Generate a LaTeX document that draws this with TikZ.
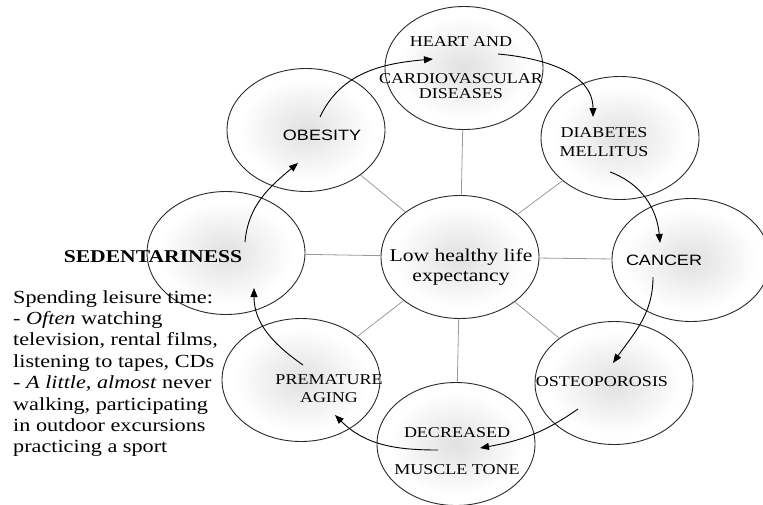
\documentclass[tikz,border=0pt]{standalone}
\usepackage{fontspec}
\setmainfont{Liberation Serif}[FakeStretch=1.2]
\setsansfont{Liberation Sans}[FakeStretch=1.2]
\usetikzlibrary{arrows.meta,backgrounds,shapes.geometric}
\definecolor{rim}{HTML}{2A2A2A}
\definecolor{spokegrey}{HTML}{9A9A9A}
\pgfdeclareradialshading{glow}{\pgfpoint{0bp}{0bp}}{color(0bp)=(black!12); color(21bp)=(white); color(25bp)=(white); color(50bp)=(white)}
\tikzset{
  blob/.style={ellipse, draw=rim, line width=0.9pt, minimum width=158pt,
               minimum height=123pt, inner sep=0pt},
  spoke/.style={draw=spokegrey, line width=0.8pt},
  ar/.style={-{Triangle[length=9pt,width=7pt]}, line width=0.9pt, color=black},
  tag/.style={inner sep=0pt, align=center, font=\fontsize{15}{16}\selectfont},
  tagsf/.style={tag, font=\sffamily\fontsize{15}{16}\selectfont},
}

\begin{document}
\begin{tikzpicture}[x=1pt, y=1pt]
\useasboundingbox (0,0) rectangle (763,-504);

% --- circles ---
\node[blob] (life)  at (460,-257) {};
\node[blob] (heart) at (464,-68)  {};
\node[blob] (obe)   at (306,-130) {};
\node[blob] (diab)  at (620,-138) {};
\node[blob] (canc)  at (691,-260) {};
\node[blob] (osteo) at (614,-383) {};
\node[blob] (decr)  at (456,-444) {};
\node[blob] (prem)  at (301,-380) {};
\node[blob] (sed)   at (226,-253) {};

\begin{scope}[on background layer]
\foreach \b in {life,heart,obe,diab,canc,osteo,decr,prem,sed}
  \shade[shading=glow] (\b) ellipse [x radius=79, y radius=61.5];
\end{scope}

% spokes from the middle
\foreach \b in {heart,obe,diab,canc,osteo,decr,prem,sed}
  \draw[spoke] (life) -- (\b);

% --- texts ---
\node[inner sep=0pt, align=center, font=\fontsize{18}{20}\selectfont] (lifetxt)
  at (461,-267) {Low healthy life\\expectancy};
\node[tag] (hearttxt) at (461,-68) {HEART AND\\[21pt]CARDIOVASCULAR\\[-1pt]DISEASES};
\node[tagsf] (obetxt) at (322,-135) {OBESITY};
\node[tag, font=\fontsize{15}{19}\selectfont] (diabtxt) at (604,-142.5) {DIABETES\\MELLITUS};
\node[tagsf] (canctxt) at (664,-260) {CANCER};
\node[tag] (osteotxt) at (602,-382) {OSTEOPOROSIS};
\node[tag] (decrtxt) at (457,-451.5) {DECREASED\\[21pt]MUSCLE TONE};
\node[tag, font=\fontsize{15}{18}\selectfont] (premtxt) at (329,-389) {PREMATURE\\AGING};
\node[inner sep=0pt, font=\bfseries\fontsize{18}{20}\selectfont] (sedtxt) at (153,-257) {SEDENTARINESS};
\node[anchor=north west, inner sep=0pt, align=left,
      font=\fontsize{18.5}{21.4}\selectfont] (habits) at (13,-290)
  {Spending leisure time:\\- \textit{Often} watching\\television, rental films,\\listening to tapes, CDs\\
   - \textit{A little, almost} never\\walking, participating\\in outdoor excursions\\practicing a sport};

% --- the cycle ---
\coordinate (sed-o)   at (245,-242);
\coordinate (obe-i)   at (298,-163);
\coordinate (obe-o)   at (320,-117);
\coordinate (heart-i) at (433,-59);
\coordinate (heart-o) at (498,-54);
\coordinate (diab-i)  at (593,-117);
\coordinate (diab-o)  at (610,-172);
\coordinate (canc-i)  at (660,-243);
\coordinate (canc-o)  at (653,-277);
\coordinate (osteo-i) at (613,-363);
\coordinate (osteo-o) at (578,-409);
\coordinate (decr-i)  at (480,-448);
\coordinate (decr-o)  at (438,-450);
\coordinate (prem-i)  at (335,-415);
\coordinate (prem-o)  at (303,-365);
\coordinate (sed-i)   at (254,-288);

\draw[ar] (sed-o)   to[out=85,  in=-140] (obe-i);
\draw[ar] (obe-o)   to[out=65,  in=185]  (heart-i);
\draw[ar] (heart-o) to[out=-5,  in=90]   (diab-i);
\draw[ar] (diab-o)  to[out=-20, in=95]   (canc-i);
\draw[ar] (canc-o)  to[out=-90, in=55]   (osteo-i);
\draw[ar] (osteo-o) to[out=-145,in=10]   (decr-i);
\draw[ar] (decr-o)  to[out=180, in=-45]  (prem-i);
\draw[ar] (prem-o)  to[out=145, in=-90]  (sed-i);

\end{tikzpicture}
\end{document}
